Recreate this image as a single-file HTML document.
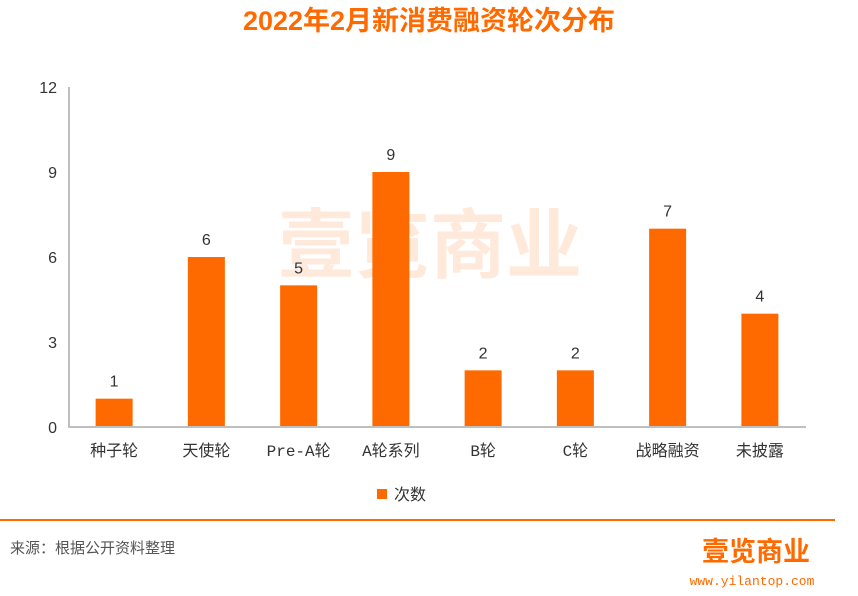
<!DOCTYPE html>
<html><head><meta charset="utf-8"><style>
body{margin:0;background:#fff;width:858px;height:596px;overflow:hidden;font-family:"Liberation Sans","Noto Sans CJK SC",sans-serif;}
</style></head><body>
<svg width="858" height="596" style="position:absolute;left:0;top:0">
<text x="429" y="30" text-anchor="middle" font-size="27" font-weight="bold" fill="#FF6A00" font-family="Liberation Sans, Noto Sans CJK SC, sans-serif">2022年2月新消费融资轮次分布</text>
<g opacity="0.18">
<text x="430" y="272" text-anchor="middle" font-size="76" font-weight="bold" fill="#FF8A3C" font-family="Noto Sans CJK SC, sans-serif">壹览商业</text>
</g>
<g id="yaxis"></g>
<g id="bars"></g>
<line x1="68" y1="427" x2="806" y2="427" stroke="#bfbfbf" stroke-width="2"/>
<line x1="69" y1="87" x2="69" y2="427" stroke="#bfbfbf" stroke-width="2"/>
<g>
<rect x="377" y="489" width="10" height="10" fill="#FF6A00"/>
<text x="394" y="500" font-size="16" fill="#333" font-family="Liberation Sans, Noto Sans CJK SC, sans-serif">次数</text>
</g>
<line x1="0" y1="520" x2="835" y2="520" stroke="#FF6A00" stroke-width="2"/>
<text x="10" y="553" font-size="15" fill="#555" font-family="Liberation Sans, Noto Sans CJK SC, sans-serif">来源：根据公开资料整理</text>
<text x="756" y="561" text-anchor="middle" font-size="27" font-weight="bold" fill="#FF6A00" font-family="Noto Sans CJK SC, sans-serif">壹览商业</text>
<text x="752" y="585" text-anchor="middle" font-size="13" fill="#FF6A00" font-family="Liberation Mono, monospace">www.yilantop.com</text>
</svg>
<script>
const categories=["种子轮","天使轮","Pre-A轮","A轮系列","B轮","C轮","战略融资","未披露"];
const counts=[1,6,5,9,2,2,7,4];
const yTicks=[0,3,6,9,12];
const NS="http://www.w3.org/2000/svg";
const x0=68,x1=806,yBase=427,yTop=87,yMax=12;
const band=(x1-x0)/categories.length;
const y=v=>yBase-(v/yMax)*(yBase-yTop);
const xc=i=>x0+band*(i+0.5);
const ya=document.getElementById('yaxis'),bg=document.getElementById('bars');
function mk(tag,attrs){const e=document.createElementNS(NS,tag);for(const k in attrs)e.setAttribute(k,attrs[k]);return e;}
yTicks.forEach(t=>{
 const e=mk('text',{x:57,y:y(t)+6,'text-anchor':'end','font-size':16,fill:'#333','font-family':'Liberation Sans, sans-serif'});
 
 
 e.textContent=t;ya.appendChild(e);
});
categories.forEach((c,i)=>{
 const r=mk('rect',{x:xc(i)-18.5,y:y(counts[i]),width:37,height:yBase-y(counts[i]),fill:'#FF6A00'});
 
 
 bg.appendChild(r);
 const v=mk('text',{x:xc(i),y:y(counts[i])-12,'text-anchor':'middle','font-size':16,fill:'#333','font-family':'Liberation Sans, sans-serif'});
 
 
 v.textContent=counts[i];bg.appendChild(v);
 const l=mk('text',{x:xc(i),y:456,'text-anchor':'middle','font-size':16,fill:'#333','font-family':'Liberation Mono, Noto Sans CJK SC, sans-serif'});
 
 
 l.textContent=c;bg.appendChild(l);
});
</script>
</body></html>
